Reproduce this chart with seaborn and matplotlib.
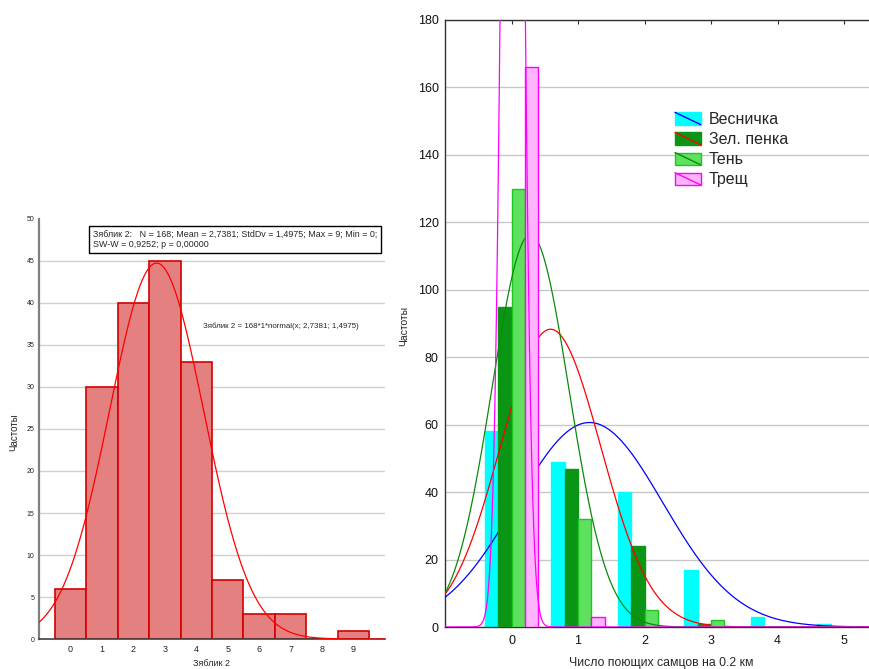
import numpy as np
import pandas as pd
import matplotlib
matplotlib.use("Agg")
import matplotlib.pyplot as plt
import seaborn as sns
from matplotlib.legend_handler import HandlerBase
from matplotlib.patches import Rectangle
from matplotlib.lines import Line2D

# --- Зяблик 2: distribution of singing males ---
finch_values = [0, 1, 2, 3, 4, 5, 6, 7, 8, 9]
finch_counts = [6, 30, 40, 45, 33, 7, 3, 3, 0, 1]
finch_n = 168
finch_mean = 2.7381
finch_sd = 1.4975

# --- four species, males per 0.2 km ---
males = [0, 1, 2, 3, 4, 5]
species = ["Весничка", "Зел. пенка", "Тень", "Трещ"]
vesnichka = [58, 49, 40, 17, 3, 1]
zel_penka = [95, 47, 24, 1, 0, 0]
ten = [130, 32, 5, 2, 0, 0]
treshch = [166, 3, 0, 0, 0, 0]

bar_fill = ["#00ffff", "#0a9614", "#5fe05f", "#ffb4ff"]
bar_edge = ["#00ffff", "#0a9614", "#1ec81e", "#ff00ff"]
curve_col = ["#0000ff", "#ff0000", "#0a8a0a", "#ff00ff"]

sns.set_style("white")
plt.rcParams["font.family"] = ["Liberation Sans", "DejaVu Sans"]

W, H = 870, 669
fig = plt.figure(figsize=(W / 100, H / 100), dpi=100)
axL = fig.add_axes([39 / W, 30 / H, 346 / W, 420 / H])
axR = fig.add_axes([445 / W, 42 / H, 425 / W, 607 / H])


def normal_pdf(x, m, s):
    return np.exp(-0.5 * ((x - m) / s) ** 2) / (s * np.sqrt(2 * np.pi))


# ---------- left panel ----------
sns.histplot(x=finch_values, weights=finch_counts, discrete=True,
             color="#e48080", edgecolor="#d40000", linewidth=1.2, alpha=1,
             ax=axL, zorder=2)
xs = np.linspace(-1, 10, 500)
axL.plot(xs, finch_n * 1 * normal_pdf(xs, finch_mean, finch_sd),
         color="#ff0000", lw=0.9, zorder=3)

axL.set_xlim(-1, 10)
axL.set_ylim(0, 50)
axL.set_yticks(range(0, 51, 5))
axL.set_xticks(finch_values)
axL.set_xlabel("")
axL.set_ylabel("")
axL.yaxis.grid(True, color="#cfcfcf", lw=1)
axL.set_axisbelow(True)
axL.yaxis.get_gridlines()[-1].set_visible(False)
axL.yaxis.get_gridlines()[0].set_visible(False)
for s in ("top", "right"):
    axL.spines[s].set_visible(False)
axL.spines["left"].set_color("#808080")
axL.spines["left"].set_linewidth(1.6)
axL.spines["bottom"].set_color("#404040")
axL.spines["bottom"].set_linewidth(1.2)
axL.tick_params(axis="y", direction="out", length=2, width=0.8,
                labelsize=5, pad=1.5, colors="#404040", labelcolor="#222222")
axL.tick_params(axis="x", length=0, labelsize=6.5, pad=4, labelcolor="#222222")

axL.text(93 / W, 1 - 230 / H,
         "Зяблик 2:   N = 168; Mean = 2,7381; StdDv = 1,4975; Max = 9; Min = 0;\n"
         "SW-W = 0,9252; p = 0,00000",
         transform=fig.transFigure, fontsize=6.4, va="top", ha="left",
         linespacing=1.2,
         bbox=dict(boxstyle="square,pad=0.4", fc="white", ec="black", lw=1))
axL.text(203 / W, 1 - 326 / H, "Зяблик 2 = 168*1*normal(x; 2,7381; 1,4975)",
         transform=fig.transFigure, fontsize=5.7, va="center", ha="left")
fig.text(14 / W, 1 - 432 / H, "Частоты", rotation=90, fontsize=7,
         ha="center", va="center")
fig.text(212 / W, 1 - 664 / H, "Зяблик 2", fontsize=6.5, ha="center", va="center")

# ---------- right panel ----------
df = pd.DataFrame({
    "males": np.tile(males, 4),
    "count": np.concatenate([vesnichka, zel_penka, ten, treshch]),
    "species": np.repeat(species, len(males)),
})
sns.barplot(data=df, x="males", y="count", hue="species", hue_order=species,
            palette=bar_fill, saturation=1, width=0.8, errorbar=None,
            legend=False, ax=axR)

series = [vesnichka, zel_penka, ten, treshch]
xr = np.linspace(-1, 5.5, 1200)
for i, (cont, counts) in enumerate(zip(axR.containers, series)):
    for p in cont:
        p.set_edgecolor(bar_edge[i])
        p.set_linewidth(1.0)
        p.set_zorder(2 + 2 * i)
    c = np.asarray(counts, dtype=float)
    n = c.sum()
    m = (c * np.asarray(males)).sum() / n
    sd = np.sqrt((c * (np.asarray(males) - m) ** 2).sum() / (n - 1))
    axR.plot(xr, n * normal_pdf(xr, m, sd), color=curve_col[i], lw=0.9,
             zorder=3 + 2 * i)

axR.set_xlim(-1, 5.39)
axR.set_ylim(0, 180)
axR.set_yticks(range(0, 181, 20))
axR.set_xticks(males)
axR.set_xticklabels([str(v) for v in males])
axR.set_xlabel("")
axR.set_ylabel("")
axR.yaxis.grid(True, color="#c8c8c8", lw=1)
axR.set_axisbelow(True)
axR.spines["right"].set_visible(False)
for s in ("left", "top", "bottom"):
    axR.spines[s].set_color("#333333")
    axR.spines[s].set_linewidth(1.0)
axR.tick_params(axis="x", direction="in", top=True, length=3, width=0.8,
                labelsize=9, pad=6, labelcolor="#111111")
axR.tick_params(axis="y", direction="out", length=2.5, width=0.8,
                labelsize=9, pad=2, labelcolor="#111111")

fig.text(404 / W, 1 - 326 / H, "Частоты", rotation=90, fontsize=7.5,
         ha="center", va="center")
fig.text(661 / W, 1 - 663 / H, "Число поющих самцов на 0.2 км", fontsize=8.8,
         ha="center", va="center")


class SwatchKey:
    def __init__(self, face, edge, line):
        self.face, self.edge, self.line = face, edge, line


class SwatchHandler(HandlerBase):
    def create_artists(self, legend, h, xdescent, ydescent, width, height,
                       fontsize, trans):
        x0, y0 = -xdescent, -ydescent
        rect = Rectangle((x0, y0), width, height, facecolor=h.face,
                         edgecolor=h.edge, lw=1, transform=trans)
        ln = Line2D([x0, x0 + width], [y0 + height, y0], color=h.line,
                    lw=1, transform=trans)
        return [rect, ln]


keys = [SwatchKey(f, e, l) for f, e, l in zip(bar_fill, bar_edge, curve_col)]
axR.legend(handles=keys, labels=species, handler_map={SwatchKey: SwatchHandler()},
           loc="upper left", bbox_to_anchor=(675 / W, 1 - 112 / H),
           bbox_transform=fig.transFigure, frameon=False, fontsize=11.5,
           handlelength=1.6, handleheight=0.8, handletextpad=0.5,
           labelspacing=0.32, borderpad=0, borderaxespad=0)

fig.savefig("out.png", dpi=100)
